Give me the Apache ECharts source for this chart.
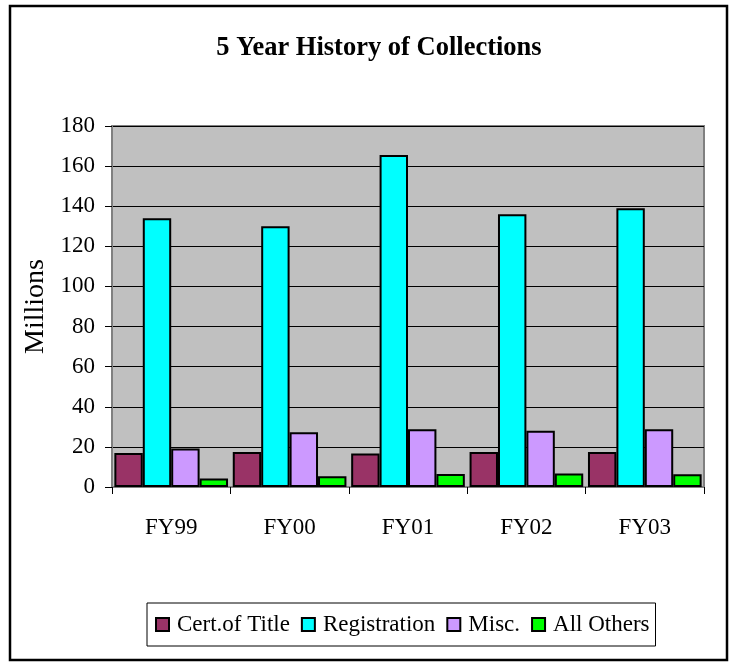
<!DOCTYPE html>
<html>
<head>
<meta charset="utf-8">
<script src="https://cdn.jsdelivr.net/npm/echarts@6/dist/echarts.min.js"></script>
<style>
  html, body { margin: 0; padding: 0; background: #fff; }
  #chart { width: 731px; height: 663px; }
</style>
</head>
<body>
<div id="chart"></div>
<script>
// 数据（单位：百万）
var years = ['FY99', 'FY00', 'FY01', 'FY02', 'FY03']
var certOfTitle = [17, 17.5, 16.7, 17.5, 17.5]
var registration = [134, 130, 165.5, 136, 139]
var misc = [19.2, 27.3, 28.8, 28, 28.8]
var allOthers = [4.3, 5.3, 6.5, 6.7, 6.3]
var yTicks = [0, 20, 40, 60, 80, 100, 120, 140, 160, 180]

var colors = ['#993366', '#00FFFF', '#CC99FF', '#00FF00']
var serif = '"Liberation Serif", "Times New Roman", serif'

var chart = echarts.init(document.getElementById('chart'))

function barSeries (name, data) {
  return {
    name: name,
    type: 'bar',
    // 柱子之间没有间隙
    barGap: '0',
    barCategoryGap: '4%',
    itemStyle: {
      borderColor: '#000',
      borderWidth: 2
    },
    data: data
  }
}

var options = {
  color: colors,
  animation: false,
  backgroundColor: '#fff',
  title: {
    text: '5 Year History of Collections',
    left: 374,
    top: 30,
    textAlign: 'center',
    textStyle: {
      fontFamily: serif,
      fontWeight: 'bold',
      fontSize: 26.5,
      color: '#000'
    }
  },
  graphic: [
    {
      type: 'rect',
      shape: { x: 10, y: 6, width: 717, height: 654 },
      style: { fill: 'none', stroke: '#000', lineWidth: 2.5 },
      silent: true
    }
  ],
  grid: {
    left: 112,
    top: 126,
    width: 592,
    height: 361,
    show: true,
    backgroundColor: '#C0C0C0',
    borderColor: '#808080',
    borderWidth: 2
  },
  legend: {
    data: ['Cert.of Title', 'Registration', 'Misc.', 'All Others'],
    left: 147,
    top: 603,
    icon: 'rect',
    itemWidth: 13,
    itemHeight: 13,
    itemGap: 11,
    padding: [10, 6, 10, 8],
    borderColor: '#000',
    borderWidth: 1,
    backgroundColor: '#fff',
    textStyle: {
      fontFamily: serif,
      fontSize: 23,
      color: '#000',
      padding: [0, 0, 0, 3]
    }
  },
  xAxis: {
    type: 'category',
    data: years,
    axisLine: { lineStyle: { color: '#808080', width: 2 } },
    axisTick: { show: true, length: 7, lineStyle: { color: '#000' } },
    axisLabel: {
      margin: 29,
      fontFamily: serif,
      fontSize: 23,
      color: '#000'
    }
  },
  yAxis: {
    type: 'value',
    min: 0,
    max: 180,
    interval: 20,
    name: 'Millions',
    nameLocation: 'middle',
    nameRotate: 90,
    nameGap: 57,
    nameTextStyle: {
      fontFamily: serif,
      fontSize: 28,
      color: '#000'
    },
    axisLine: { show: true, lineStyle: { color: '#808080', width: 2 } },
    axisTick: { show: true, length: 7, lineStyle: { color: '#000' } },
    splitLine: { show: true, lineStyle: { color: '#000', width: 1 } },
    axisLabel: {
      margin: 17,
      fontFamily: serif,
      fontSize: 23,
      color: '#000',
      customValues: yTicks
    }
  },
  series: [
    barSeries('Cert.of Title', certOfTitle),
    barSeries('Registration', registration),
    barSeries('Misc.', misc),
    barSeries('All Others', allOthers)
  ]
}

chart.setOption(options)
</script>
</body>
</html>
